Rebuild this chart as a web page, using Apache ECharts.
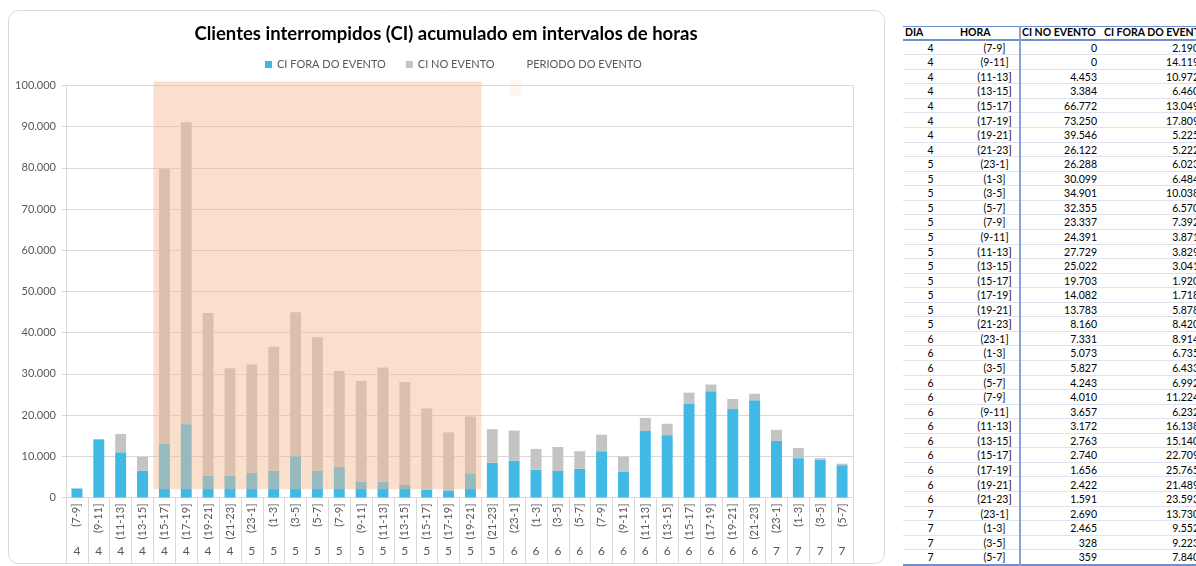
<!DOCTYPE html>
<html>
<head>
<meta charset="utf-8">
<script src="https://cdn.jsdelivr.net/npm/echarts@6/dist/echarts.min.js"></script>
<style>
  html, body { margin:0; padding:0; background:#fff; width:1196px; height:566px; overflow:hidden; position:relative; }
  #chart { position:absolute; left:0; top:0; width:892px; height:566px; }
  #tbl { position:absolute; left:903px; top:0; width:300px; height:566px; font-family: Lato, "Noto Sans", sans-serif; font-size:10.5px; color:#000; }
  #tbl .row { position:absolute; left:0; width:300px; border-bottom:1px solid #dde3f0; box-sizing:border-box; }
  #tbl .c { position:absolute; top:0; white-space:nowrap; }
</style>
</head>
<body>
<div id="chart"></div>
<div id="tbl"></div>
<script>
// ---------------- data ----------------
const DIA = [4,4,4,4,4,4,4,4, 5,5,5,5,5,5,5,5,5,5,5,5, 6,6,6,6,6,6,6,6,6,6,6,6, 7,7,7,7];
const HORA = ['(7-9]','(9-11]','(11-13]','(13-15]','(15-17]','(17-19]','(19-21]','(21-23]',
  '(23-1]','(1-3]','(3-5]','(5-7]','(7-9]','(9-11]','(11-13]','(13-15]','(15-17]','(17-19]','(19-21]','(21-23]',
  '(23-1]','(1-3]','(3-5]','(5-7]','(7-9]','(9-11]','(11-13]','(13-15]','(15-17]','(17-19]','(19-21]','(21-23]',
  '(23-1]','(1-3]','(3-5]','(5-7]'];
const CI_NO_EVENTO = [0,0,4453,3384,66772,73250,39546,26122,
  26288,30099,34901,32355,23337,24391,27729,25022,19703,14082,13783,8160,
  7331,5073,5827,4243,4010,3657,3172,2763,2740,1656,2422,1591,
  2690,2465,328,359];
const CI_FORA_DO_EVENTO = [2190,14119,10972,6460,13049,17809,5225,5222,
  6023,6484,10038,6570,7392,3871,3829,3041,1920,1718,5878,8420,
  8914,6735,6433,6992,11224,6232,16138,15140,22709,25765,21489,23593,
  13730,9552,9223,7840];
// event period: first and last category index, lower and upper value
const PERIODO_DO_EVENTO = [[4, 18, 2000, 101000]];
const Y_TICKS = [0,10000,20000,30000,40000,50000,60000,70000,80000,90000,100000];

const fmt = v => String(v).replace(/\B(?=(\d{3})+(?!\d))/g, '.');
const FONT = 'Lato, "Noto Sans", sans-serif';
const TXT = '#595959';
const LINE = '#d9d9d9';

const chart = echarts.init(document.getElementById('chart'), null, {renderer:'canvas'});
chart.setOption({
  animation: false,
  textStyle: { fontFamily: FONT },
  title: {
    text: 'Clientes interrompidos (CI) acumulado em intervalos de horas',
    left: 'center', top: 20,
    textStyle: { fontFamily: FONT, fontSize: 18.5, fontWeight: 'bold', color: '#000' }
  },
  legend: {
    left: 260, top: 54, itemWidth: 7, itemHeight: 7, itemGap: 20,
    textStyle: { fontFamily: FONT, fontSize: 11, color: TXT },
    data: [
      { name: 'CI FORA DO EVENTO', icon: 'rect' },
      { name: 'CI NO EVENTO', icon: 'rect' },
      { name: 'PERIODO DO EVENTO', icon: 'none' }
    ]
  },
  graphic: [
    { type: 'rect', silent: true, z: -10,
      shape: { x: 8.5, y: 10.5, width: 876, height: 553, r: 10 },
      style: { fill: 'none', stroke: '#d9d9d9', lineWidth: 1 } },
    { type: 'rect', silent: true, z: 10,
      shape: { x: 510, y: 80, width: 11, height: 16 },
      style: { fill: 'rgba(245,188,151,0.13)' } }
  ],
  grid: { left: 66, right: 39, top: 85.5, bottom: 68.5 },
  xAxis: [
    {
      type: 'category', data: HORA, position: 'bottom',
      axisLine: { show: true, lineStyle: { color: LINE } },
      axisTick: { show: true, interval: 0, length: 66, lineStyle: { color: LINE } },
      axisLabel: { interval: 0, rotate: 90, margin: 6, fontSize: 11, color: TXT, fontFamily: FONT }
    },
    {
      type: 'category', data: HORA, position: 'bottom',
      axisLine: { show: false }, axisTick: { show: false },
      axisLabel: { interval: 0, margin: 48, fontSize: 12, color: TXT, fontFamily: FONT,
        formatter: (v, i) => String(DIA[i]) }
    }
  ],
  yAxis: [
    {
      type: 'value', min: Y_TICKS[0], max: Y_TICKS[Y_TICKS.length-1], interval: 10000,
      axisLine: { show: true, lineStyle: { color: LINE } },
      axisTick: { show: true, length: 4, lineStyle: { color: LINE } },
      splitLine: { show: true, lineStyle: { color: LINE } },
      axisLabel: { margin: 10, fontSize: 11, color: TXT, fontFamily: FONT, formatter: v => fmt(v) }
    },
    {
      type: 'value', position: 'right', min: 0, max: 100000, interval: 10000,
      axisLine: { show: true, lineStyle: { color: LINE } },
      axisTick: { show: false }, axisLabel: { show: false }, splitLine: { show: false }
    }
  ],
  series: [
    { name: 'CI FORA DO EVENTO', type: 'bar', stack: 'ci', barWidth: '50%', z: 2,
      itemStyle: { color: '#41b9e5' }, data: CI_FORA_DO_EVENTO },
    { name: 'CI NO EVENTO', type: 'bar', stack: 'ci', barWidth: '50%', z: 2,
      itemStyle: { color: '#c4c4c4' }, data: CI_NO_EVENTO },
    { name: 'PERIODO DO EVENTO', type: 'custom', z: 5, clip: false,
      itemStyle: { color: 'rgba(245,188,151,0.48)' },
      encode: { x: [0, 1], y: [2, 3] },
      data: PERIODO_DO_EVENTO,
      renderItem: (params, api) => {
        const w = api.size([1, 0])[0];
        const p0 = api.coord([api.value(0), api.value(2)]);
        const p1 = api.coord([api.value(1), api.value(3)]);
        return { type: 'rect',
          shape: { x: p0[0] - w/2, y: p1[1], width: p1[0] - p0[0] + w, height: p0[1] - p1[1] },
          style: { fill: 'rgba(245,188,151,0.48)' } };
      }
    }
  ]
});

// ---------------- table ----------------
const tbl = document.getElementById('tbl');
const COLS = [ {x:0, w:55}, {x:55, w:61}, {x:116, w:82}, {x:198, w:98} ];
const HEAD = ['DIA','HORA','CI NO EVENTO','CI FORA DO EVENTO'];
const HEAD_TOP = 26, HEAD_H = 14.7, ROW_H = 14.56;
let html = '';
html += `<div style="position:absolute;left:0;top:${HEAD_TOP}px;width:300px;height:${HEAD_H}px;border-top:1px solid #6f8fcf;border-bottom:2px solid #6f8fcf;box-sizing:border-box;font-weight:bold;">`;
HEAD.forEach((h, j) => {
  html += `<div class="c" style="left:${COLS[j].x + (j===0?2:(j===1?2:3))}px;line-height:${HEAD_H-3}px;">${h}</div>`;
});
html += '</div>';
for (let i = 0; i < DIA.length; i++) {
  const top = HEAD_TOP + HEAD_H + i * ROW_H;
  html += `<div class="row" style="top:${top}px;height:${ROW_H}px;line-height:${ROW_H}px;">`;
  html += `<div class="c" style="left:${COLS[0].x}px;width:${COLS[0].w}px;text-align:center;">${DIA[i]}</div>`;
  html += `<div class="c" style="left:${COLS[1].x}px;width:${COLS[1].w}px;text-align:center;padding-left:12px;box-sizing:border-box;">${HORA[i]}</div>`;
  html += `<div class="c" style="left:${COLS[2].x}px;width:${COLS[2].w - 4}px;text-align:right;">${fmt(CI_NO_EVENTO[i])}</div>`;
  html += `<div class="c" style="left:${COLS[3].x}px;width:${COLS[3].w}px;text-align:right;">${fmt(CI_FORA_DO_EVENTO[i])}</div>`;
  html += '</div>';
}
const bottom = HEAD_TOP + HEAD_H + DIA.length * ROW_H;
html += `<div style="position:absolute;left:0;top:${bottom - 1}px;width:300px;height:0;border-top:2px solid #6f8fcf;"></div>`;
html += `<div style="position:absolute;left:${COLS[2].x}px;top:${HEAD_TOP}px;width:0;height:${bottom - HEAD_TOP}px;border-left:2px solid #8aa3d6;"></div>`;
tbl.innerHTML = html;
</script>
</body>
</html>
